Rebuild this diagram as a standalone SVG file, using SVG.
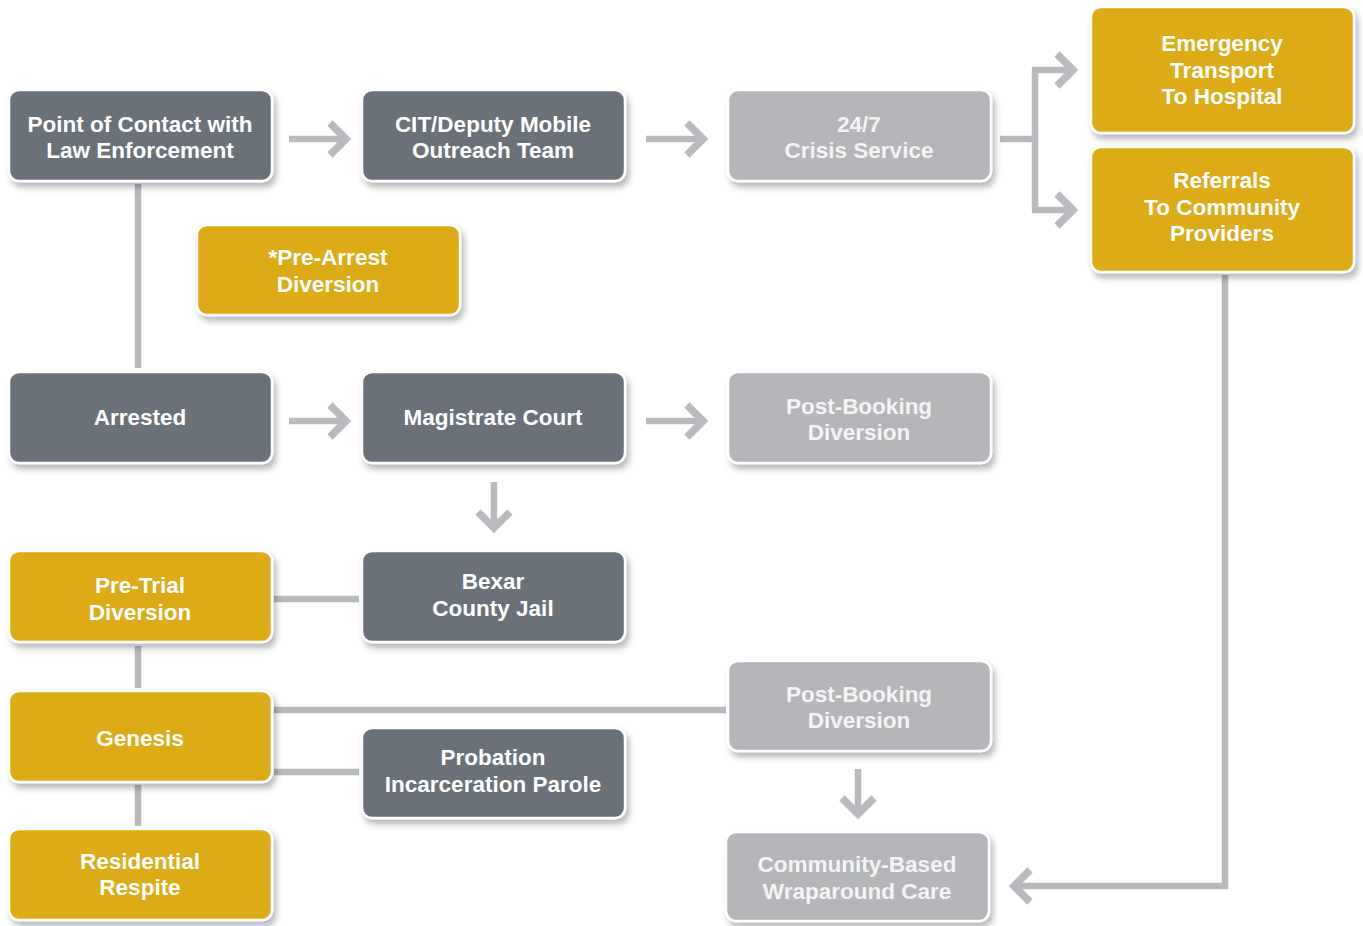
<svg xmlns="http://www.w3.org/2000/svg" width="1363" height="926" viewBox="0 0 1363 926">
<defs>
<filter id="sh" x="-10%" y="-10%" width="125%" height="135%">
<feDropShadow dx="3" dy="5" stdDeviation="3" flood-color="#000" flood-opacity="0.28"/>
</filter>
<style>
.box{stroke:#fff;stroke-width:2.5;filter:url(#sh)}
.dk{fill:#6a7179}
.yl{fill:#dcab12}
.lt{fill:#b4b6ba}
.t{font-family:"Liberation Sans",Arial,sans-serif;font-weight:bold;font-size:22.5px;fill:#fff;text-anchor:middle}
.lt2{fill:#f4f4f4}
.c{fill:none;stroke:#b9babe;stroke-width:6.5;stroke-linejoin:miter;stroke-linecap:butt}
.h{fill:none;stroke:#b9babe;stroke-width:7.5;stroke-linejoin:miter;stroke-linecap:butt}
</style>
</defs>
<rect width="1363" height="926" fill="#fff"/>
<g id="connectors">
<path class="c" d="M289,139 H344"/><path class="h" d="M330,123 L346,139 L330,155"/>
<path class="c" d="M646,139 H701"/><path class="h" d="M687,123 L703,139 L687,155"/>
<path class="c" d="M289,421 H344"/><path class="h" d="M330,405 L346,421 L330,437"/>
<path class="c" d="M646,421 H701"/><path class="h" d="M687,405 L703,421 L687,437"/>
<path class="c" d="M494,482 V526"/><path class="h" d="M478,512 L494,528 L510,512"/>
<path class="c" d="M858,769 V812"/><path class="h" d="M842,798 L858,814 L874,798"/>
<path class="c" d="M1000,139 H1035 M1035,70 V210 M1032,70 H1071 M1032,210 H1071"/>
<path class="h" d="M1057,54 L1073,70 L1057,86 M1057,194 L1073,210 L1057,226"/>
<path class="c" d="M1225,275 V886 H1016"/><path class="h" d="M1030,870 L1014,886 L1030,902"/>
<path class="c" d="M138,184 V368"/>
<path class="c" d="M274,599 H359"/>
<path class="c" d="M138,646 V688"/>
<path class="c" d="M138,785 V826"/>
<path class="c" d="M274,710 H726"/>
<path class="c" d="M274,772 H359"/>
</g>
<g id="n-contact"><rect class="box dk" x="9" y="90" width="263" height="91" rx="10"/><text class="t" x="140" y="132">Point of Contact with</text><text class="t" x="140" y="158">Law Enforcement</text></g>
<g id="n-cit"><rect class="box dk" x="362" y="90" width="263" height="91" rx="10"/><text class="t" x="493" y="132">CIT/Deputy Mobile</text><text class="t" x="493" y="158">Outreach Team</text></g>
<g id="n-crisis"><rect class="box lt" x="728" y="90" width="263" height="91" rx="10"/><text class="t lt2" x="859" y="132">24/7</text><text class="t lt2" x="859" y="158">Crisis Service</text></g>
<g id="n-emergency"><rect class="box yl" x="1091" y="7" width="263" height="126" rx="10"/><text class="t" x="1222" y="51">Emergency</text><text class="t" x="1222" y="78">Transport</text><text class="t" x="1222" y="104">To Hospital</text></g>
<g id="n-referrals"><rect class="box yl" x="1091" y="147" width="263" height="125" rx="10"/><text class="t" x="1222" y="188">Referrals</text><text class="t" x="1222" y="215">To Community</text><text class="t" x="1222" y="241">Providers</text></g>
<g id="n-prearrest"><rect class="box yl" x="197" y="225" width="263" height="90" rx="10"/><text class="t" x="328" y="265">*Pre-Arrest</text><text class="t" x="328" y="292">Diversion</text></g>
<g id="n-arrested"><rect class="box dk" x="9" y="372" width="263" height="91" rx="10"/><text class="t" x="140" y="425">Arrested</text></g>
<g id="n-magistrate"><rect class="box dk" x="362" y="372" width="263" height="91" rx="10"/><text class="t" x="493" y="425">Magistrate Court</text></g>
<g id="n-postbooking1"><rect class="box lt" x="728" y="372" width="263" height="91" rx="10"/><text class="t lt2" x="859" y="414">Post-Booking</text><text class="t lt2" x="859" y="440">Diversion</text></g>
<g id="n-pretrial"><rect class="box yl" x="9" y="551" width="263" height="91" rx="10"/><text class="t" x="140" y="593">Pre-Trial</text><text class="t" x="140" y="620">Diversion</text></g>
<g id="n-jail"><rect class="box dk" x="362" y="551" width="263" height="91" rx="10"/><text class="t" x="493" y="589">Bexar</text><text class="t" x="493" y="616">County Jail</text></g>
<g id="n-genesis"><rect class="box yl" x="9" y="691" width="263" height="91" rx="10"/><text class="t" x="140" y="746">Genesis</text></g>
<g id="n-postbooking2"><rect class="box lt" x="728" y="661" width="263" height="90" rx="10"/><text class="t lt2" x="859" y="702">Post-Booking</text><text class="t lt2" x="859" y="728">Diversion</text></g>
<g id="n-probation"><rect class="box dk" x="362" y="728" width="263" height="90" rx="10"/><text class="t" x="493" y="765">Probation</text><text class="t" x="493" y="792">Incarceration Parole</text></g>
<g id="n-residential"><rect class="box yl" x="9" y="829" width="263" height="91" rx="10"/><text class="t" x="140" y="869">Residential</text><text class="t" x="140" y="895">Respite</text></g>
<g id="n-community"><rect class="box lt" x="726" y="832" width="263" height="89" rx="10"/><text class="t lt2" x="857" y="872">Community-Based</text><text class="t lt2" x="857" y="899">Wraparound Care</text></g>
</svg>
